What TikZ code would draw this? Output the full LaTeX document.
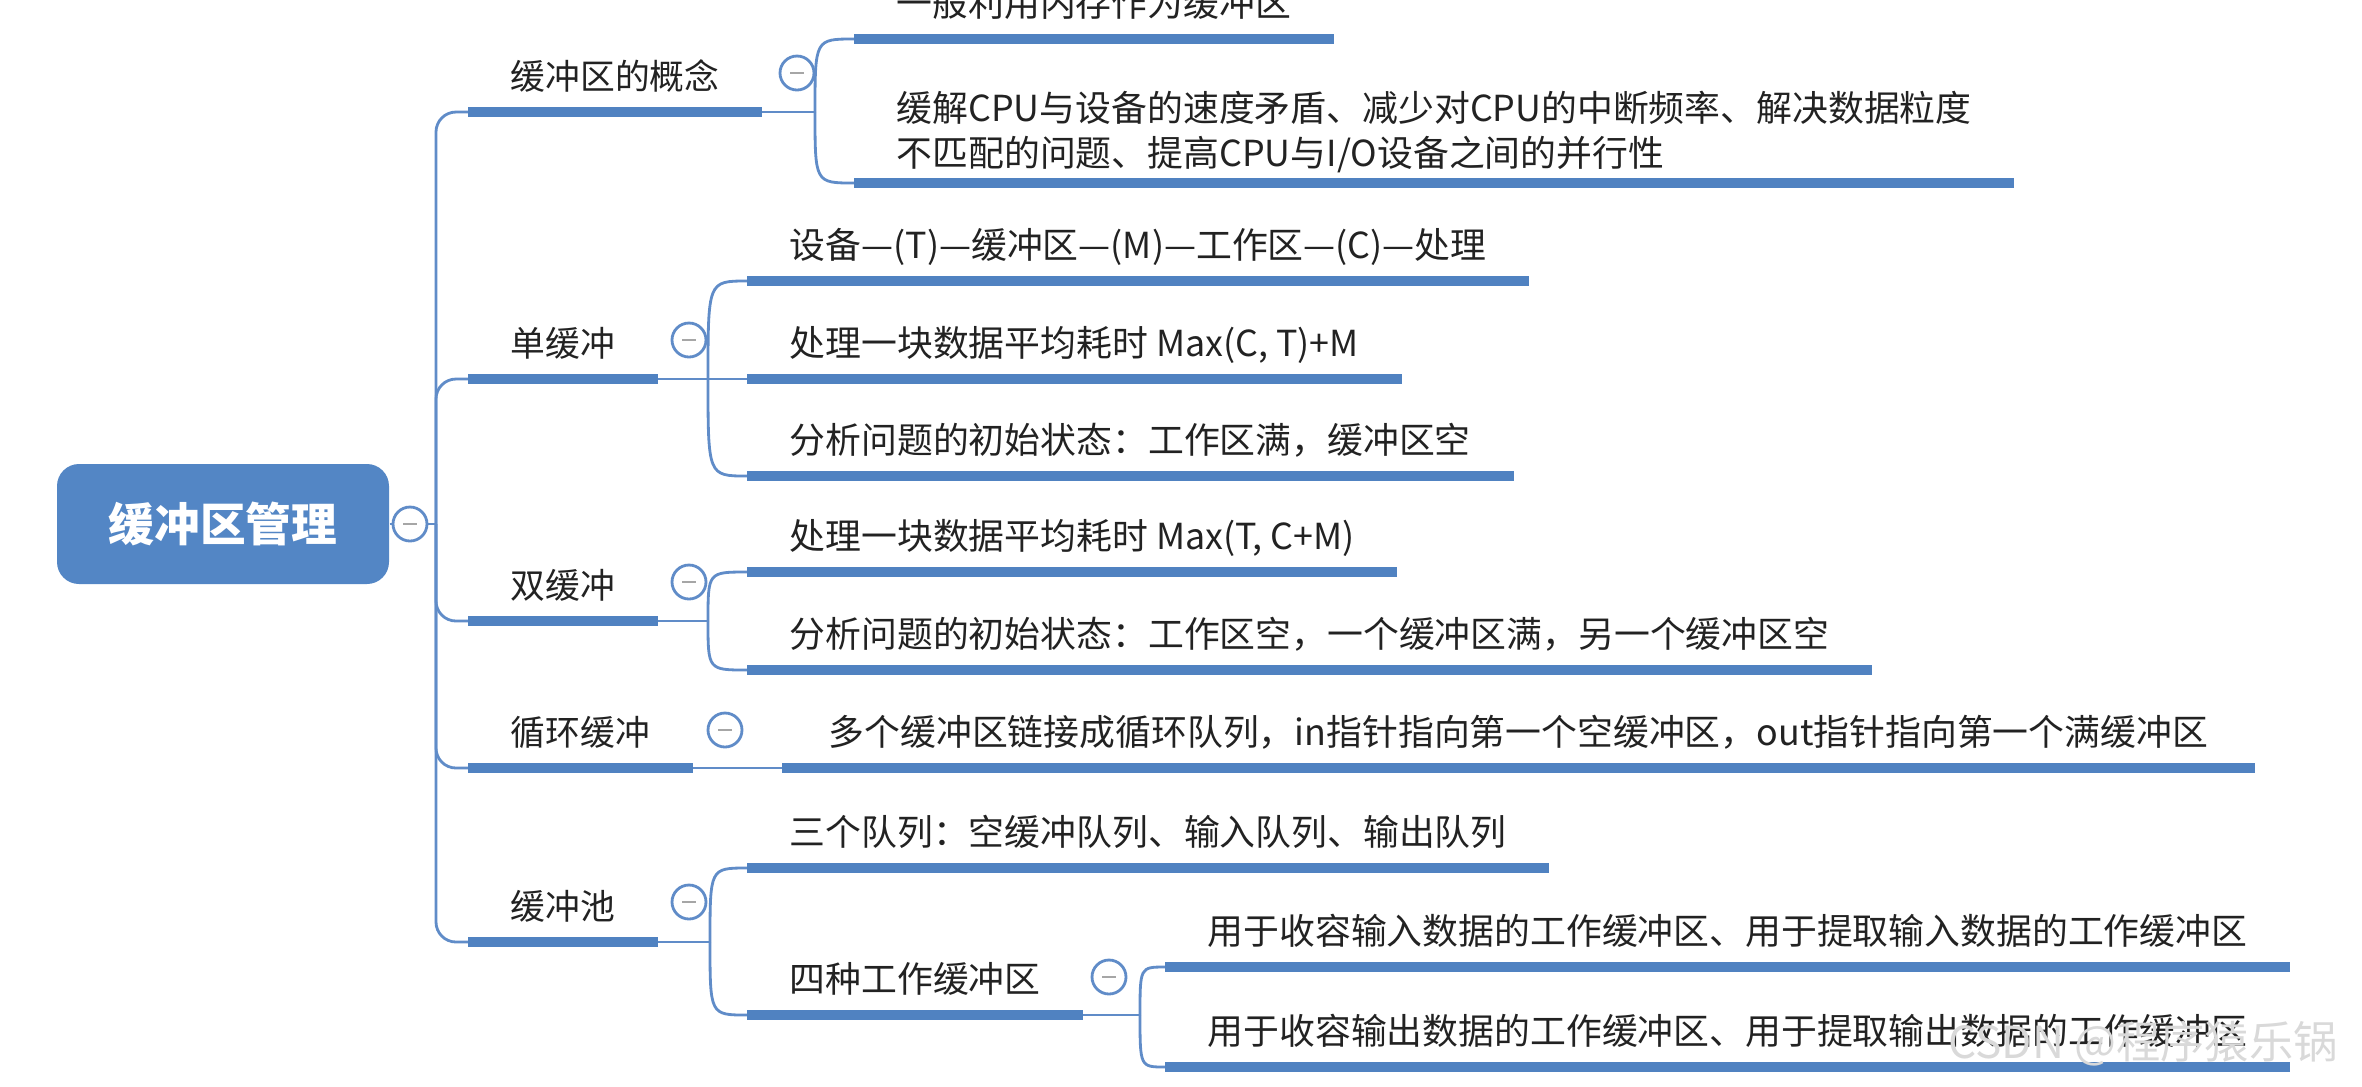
\documentclass[tikz,border=0pt]{standalone}
\usepackage{fontspec}
\setmainfont{Noto Sans CJK SC}
\usetikzlibrary{backgrounds}

\definecolor{barblue}{RGB}{80,130,193}
\definecolor{linkblue}{RGB}{96,140,200}
\definecolor{rootblue}{RGB}{83,134,197}
\definecolor{inkgray}{RGB}{34,34,34}
\newcommand{\rootfont}{\fontsize{13pt}{16pt}\selectfont\bfseries}
\newcommand{\lvlonefont}{\fontsize{9.9pt}{12pt}\selectfont}
\newcommand{\lvltwofont}{\fontsize{10.2pt}{4.5mm}\selectfont}
\newcommand{\markfont}{\fontsize{12.6pt}{15pt}\selectfont}

\begin{document}
\begin{tikzpicture}[x=0.1mm, y=-0.1mm,
  branch/.style={draw=linkblue, line width=0.8pt},
  underline/.style={draw=barblue, line width=2.6pt},
  topic/.style={anchor=south west, inner xsep=4.2mm, inner ysep=1.4mm,
    text height=2.8mm, text depth=0.8mm, text=inkgray},
  lvlone/.style={topic, font=\lvlonefont},
  lvltwo/.style={topic, font=\lvltwofont},
  fold/.style={circle, draw=linkblue, fill=white, line width=0.8pt,
    minimum size=3.4mm, inner sep=0pt,
    path picture={\draw[gray!70, line width=0.6pt]
      ([xshift=-0.7mm]path picture bounding box.center) --
      ([xshift=0.7mm]path picture bounding box.center);}}]
\useasboundingbox (0,0) rectangle (2362,1086);
\clip (0,0) rectangle (2362,1086);

% root
\node[fill=rootblue, rounded corners=2.2mm, minimum width=33.2mm,
  minimum height=12mm, text=white, font=\rootfont] (buf) at (223,524) {缓冲区管理};
\coordinate (trunk) at (436,524);

% first level
\node[lvlone] (concept) at (468,112) {缓冲区的概念};
\node[lvlone] (single) at (468,379) {单缓冲};
\node[lvlone] (double) at (468,621) {双缓冲};
\node[lvlone] (circular) at (468,768) {循环缓冲};
\node[lvlone] (pool) at (468,942) {缓冲池};

% second level
\node[lvltwo] (concept1) at (854,39) {一般利用内存作为缓冲区};
\node[lvltwo, inner ysep=0.8mm] (concept2) at (854,183)
  {\begin{tabular}[b]{@{}l@{}}缓解CPU与设备的速度矛盾、减少对CPU的中断频率、解决数据粒度\\
   不匹配的问题、提高CPU与I/O设备之间的并行性\end{tabular}};
\node[lvltwo] (single1) at (747,281) {设备—(T)—缓冲区—(M)—工作区—(C)—处理};
\node[lvltwo] (single2) at (747,379) {处理一块数据平均耗时 Max(C, T)+M};
\node[lvltwo] (single3) at (747,476) {分析问题的初始状态：工作区满，缓冲区空};
\node[lvltwo] (double1) at (747,572) {处理一块数据平均耗时 Max(T, C+M)};
\node[lvltwo] (double2) at (747,670) {分析问题的初始状态：工作区空，一个缓冲区满，另一个缓冲区空};
\node[lvltwo, inner xsep=4.6mm] (circular1) at (782,768)
  {多个缓冲区链接成循环队列，in指针指向第一个空缓冲区，out指针指向第一个满缓冲区};
\node[lvltwo] (pool1) at (747,868) {三个队列：空缓冲队列、输入队列、输出队列};
\node[lvltwo] (pool2) at (747,1015) {四种工作缓冲区};

% third level
\node[lvltwo] (pool21) at (1165,967) {用于收容输入数据的工作缓冲区、用于提取输入数据的工作缓冲区};
\node[lvltwo] (pool22) at (1165,1067) {用于收容输出数据的工作缓冲区、用于提取输出数据的工作缓冲区};

% forks
\coordinate (fork-concept) at (815,112);
\coordinate (fork-single) at (708,379);
\coordinate (fork-double) at (708,621);
\coordinate (fork-pool) at (710,942);
\coordinate (fork-pool2) at (1140,1015);

\foreach \n in {concept,single,double,circular,pool,concept1,concept2,
  single1,single2,single3,double1,double2,circular1,pool1,pool2,pool21,pool22}
  \draw[underline] (\n.south west) -- (\n.south east);

\begin{scope}[on background layer]
\draw[branch] (buf.east) -- (trunk);
\foreach \n in {concept,single,double,circular,pool}
  \draw[branch, rounded corners=2mm] (trunk) |- (\n.south west);
\foreach \p/\kids in {concept/{concept1,concept2}, single/{single1,single2,single3},
  double/{double1,double2}, pool/{pool1,pool2}, pool2/{pool21,pool22}} {
  \draw[branch] (\p.south east) -- (fork-\p);
  \foreach \k in \kids
    \draw[branch] (fork-\p) .. controls (fork-\p |- \k.south west) .. (\k.south west);
}
\draw[branch] (circular.south east) -- (circular1.south west);
\end{scope}

% fold buttons
\node[fold] (fold-buf) at (410,524) {};
\node[fold] (fold-concept) at (797,73) {};
\node[fold] (fold-single) at (689,340) {};
\node[fold] (fold-double) at (689,582) {};
\node[fold] (fold-circular) at (725,730) {};
\node[fold] (fold-pool) at (689,902) {};
\node[fold] (fold-pool2) at (1109,977) {};

\node[anchor=east, text=gray!30, font=\markfont] (mark) at (2350,1044) {CSDN @程序猿乐锅};
\end{tikzpicture}
\end{document}
